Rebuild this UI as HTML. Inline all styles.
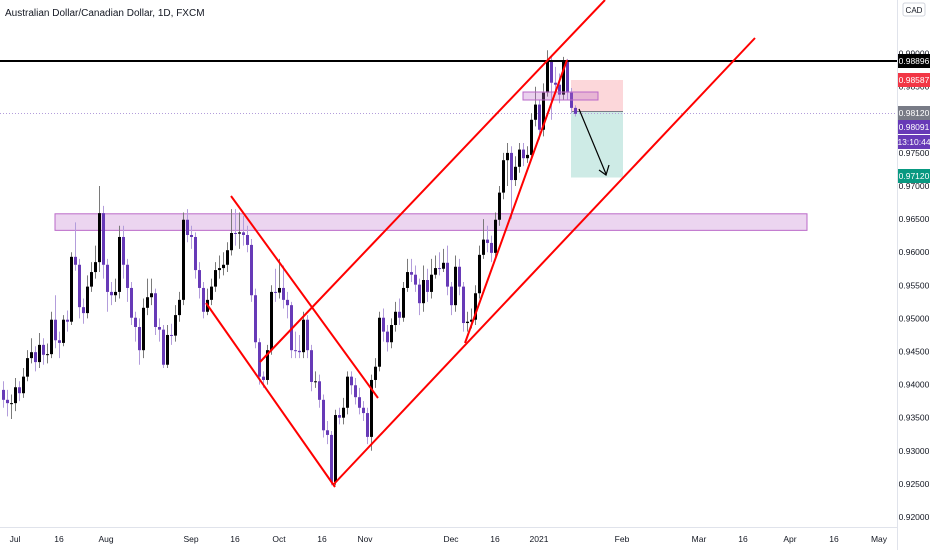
<!DOCTYPE html>
<html><head><meta charset="utf-8">
<style>
html,body{margin:0;padding:0;background:#fff;width:932px;height:550px;overflow:hidden}
svg{display:block;font-family:"Liberation Sans",sans-serif}
</style></head>
<body>
<svg id="chart" width="932" height="550" viewBox="0 0 932 550" xmlns="http://www.w3.org/2000/svg">
  <rect x="0" y="0" width="932" height="550" fill="#fff"/>
  <g id="drawBack"></g>
  <g id="candles"></g>
  <g id="drawFront"></g>
  <line x1="897.5" y1="0" x2="897.5" y2="550" stroke="#e0e3eb"/>
  <line x1="0" y1="527.5" x2="897" y2="527.5" stroke="#e0e3eb"/>
  <g id="yaxis"></g>
  <g id="xaxis"></g>
  <text x="5" y="16" font-size="10" fill="#131722">Australian Dollar/Canadian Dollar, 1D, FXCM</text>
  <rect x="903" y="3" width="22" height="13" rx="2" fill="#fff" stroke="#d1d4dc"/>
  <text x="914" y="13" font-size="8" text-anchor="middle" fill="#131722">CAD</text>
</svg>
<script>
// ---- data ----
const firstOpen = 0.9392;
const closes = [0.9377,0.9372,0.9372,0.9396,0.9387,0.9412,0.9440,0.9449,0.9434,0.9460,0.9445,0.9446,0.9498,0.9467,0.9463,0.9498,0.9495,0.9593,0.9581,0.9517,0.9508,0.9548,0.9570,0.9585,0.9659,0.9581,0.9540,0.9535,0.9540,0.9623,0.9581,0.9546,0.9501,0.9487,0.9452,0.9516,0.9532,0.9538,0.9487,0.9483,0.9430,0.9475,0.9474,0.9505,0.9528,0.9649,0.9626,0.9623,0.9573,0.9546,0.9510,0.9528,0.9548,0.9573,0.9576,0.9581,0.9603,0.9629,0.9628,0.9630,0.9626,0.9611,0.9535,0.9464,0.9412,0.9407,0.9452,0.9540,0.9539,0.9546,0.9528,0.9520,0.9452,0.9451,0.9449,0.9498,0.9452,0.9404,0.9405,0.9377,0.9331,0.9324,0.9253,0.9354,0.9350,0.9365,0.9412,0.9399,0.9381,0.9365,0.9357,0.9321,0.9407,0.9427,0.9501,0.9480,0.9464,0.9490,0.9510,0.9501,0.9546,0.9570,0.9566,0.9551,0.9523,0.9558,0.9540,0.9566,0.9576,0.9575,0.9584,0.9548,0.9520,0.9578,0.9548,0.9493,0.9495,0.9498,0.9538,0.9596,0.9619,0.9614,0.9599,0.9649,0.9690,0.9739,0.9750,0.9709,0.9729,0.9755,0.9742,0.9747,0.9800,0.9823,0.9785,0.9841,0.9888,0.9856,0.9853,0.9838,0.9888,0.9841,0.9818,0.9809];
const highs = [0.9405,0.9392,0.9385,0.9410,0.9405,0.9425,0.9452,0.9470,0.9458,0.9478,0.9470,0.9462,0.9510,0.9535,0.9480,0.9505,0.9512,0.9600,0.9645,0.9590,0.9530,0.9565,0.9585,0.9610,0.9700,0.9670,0.9590,0.9555,0.9560,0.9640,0.9640,0.9590,0.9555,0.9510,0.9500,0.9530,0.9560,0.9560,0.9545,0.9500,0.9490,0.9490,0.9492,0.9520,0.9540,0.9660,0.9665,0.9640,0.9630,0.9585,0.9555,0.9545,0.9560,0.9585,0.9595,0.9600,0.9615,0.9665,0.9665,0.9660,0.9655,0.9640,0.9620,0.9545,0.9470,0.9420,0.9460,0.9550,0.9575,0.9590,0.9580,0.9540,0.9525,0.9480,0.9475,0.9510,0.9505,0.9460,0.9420,0.9415,0.9385,0.9345,0.9330,0.9362,0.9365,0.9380,0.9420,0.9420,0.9410,0.9395,0.9375,0.9365,0.9415,0.9440,0.9510,0.9515,0.9490,0.9500,0.9525,0.9530,0.9555,0.9590,0.9590,0.9580,0.9560,0.9580,0.9575,0.9590,0.9595,0.9600,0.9605,0.9610,0.9555,0.9595,0.9590,0.9555,0.9510,0.9515,0.9550,0.9610,0.9650,0.9640,0.9625,0.9660,0.9700,0.9750,0.9765,0.9760,0.9745,0.9765,0.9765,0.9760,0.9810,0.9850,0.9830,0.9855,0.9905,0.9895,0.9880,0.9870,0.9895,0.9892,0.9848,0.9822];
const lows = [0.9365,0.9352,0.9348,0.9360,0.9375,0.9380,0.9405,0.9432,0.9420,0.9425,0.9430,0.9432,0.9440,0.9455,0.9440,0.9458,0.9480,0.9490,0.9572,0.9500,0.9492,0.9500,0.9540,0.9560,0.9570,0.9560,0.9510,0.9520,0.9525,0.9530,0.9560,0.9525,0.9490,0.9465,0.9430,0.9440,0.9505,0.9520,0.9475,0.9465,0.9425,0.9425,0.9460,0.9465,0.9495,0.9520,0.9615,0.9605,0.9560,0.9530,0.9500,0.9505,0.9520,0.9540,0.9560,0.9565,0.9570,0.9595,0.9610,0.9605,0.9610,0.9600,0.9525,0.9455,0.9400,0.9395,0.9400,0.9445,0.9525,0.9530,0.9515,0.9500,0.9440,0.9440,0.9440,0.9440,0.9440,0.9390,0.9395,0.9365,0.9320,0.9310,0.9248,0.9248,0.9340,0.9340,0.9355,0.9385,0.9370,0.9355,0.9345,0.9310,0.9300,0.9395,0.9420,0.9465,0.9450,0.9455,0.9480,0.9490,0.9495,0.9540,0.9555,0.9540,0.9505,0.9510,0.9525,0.9530,0.9560,0.9565,0.9570,0.9535,0.9505,0.9510,0.9535,0.9480,0.9480,0.9485,0.9490,0.9530,0.9590,0.9600,0.9585,0.9590,0.9640,0.9680,0.9700,0.9650,0.9700,0.9720,0.9730,0.9735,0.9740,0.9790,0.9770,0.9775,0.9835,0.9800,0.9840,0.9825,0.9830,0.9830,0.9810,0.9805];
const priceTicks = [0.92,0.925,0.93,0.935,0.94,0.945,0.95,0.955,0.96,0.965,0.97,0.975,0.98,0.985,0.99];
const timeLabels = ["Jul","16","Aug","Sep","16","Oct","16","Nov","Dec","16","2021","Feb","Mar","16","Apr","16","May"];
const timeLabelBars = [3,14,25.75,47,58,69,79.75,90.5,112,123,134,154.75,174,185,196.75,207.75,219];

// ---- scales ----
const PX_PER_UNIT = 6620;
function yScale(p){ return 517 - (p - 0.92) * PX_PER_UNIT; }
function xScale(i){ return 3 + 4 * i; }
const NS = "http://www.w3.org/2000/svg";
function mk(tag, attrs, parent){
  const e = document.createElementNS(NS, tag);
  for (const k in attrs) e.setAttribute(k, attrs[k]);
  parent.appendChild(e); return e;
}

// ---- price axis ----
const yaxis = document.getElementById('yaxis');
priceTicks.forEach(p => {
  const y = yScale(p);
  const t = mk('text', {x: 914, y: y + 3, 'font-size': 8.5, 'text-anchor': 'middle', fill: '#131722'}, yaxis);
  
  
  t.textContent = p.toFixed(5);
});
// ---- time axis ----
const xaxis = document.getElementById('xaxis');
timeLabels.forEach((lab, k) => {
  const x = xScale(timeLabelBars[k]);
  const t = mk('text', {x: x, y: 542, 'font-size': 8.5, 'text-anchor': 'middle', fill: '#131722'}, xaxis);
  
  
  t.textContent = lab;
});

// ---- background drawings ----
const back = document.getElementById('drawBack');
let r;
r = mk('rect', {x: 55, y: yScale(0.9658), width: 752, height: yScale(0.9633) - yScale(0.9658), fill: 'rgba(186,104,200,0.28)', stroke: '#ba68c8', 'stroke-width': 1}, back);


r = mk('rect', {x: 571, y: 80, width: 52, height: 31.5, fill: 'rgba(242,54,69,0.2)'}, back);


r = mk('rect', {x: 571, y: 111.5, width: 52, height: 66, fill: 'rgba(8,153,129,0.2)'}, back);


r = mk('line', {x1: 571, y1: 111.5, x2: 623, y2: 111.5, stroke: '#787b86', 'stroke-width': 1}, back);


r = mk('line', {x1: 0, y1: 113.5, x2: 897, y2: 113.5, stroke: '#b39ddb', 'stroke-width': 1, 'stroke-dasharray': '1,2'}, back);



// ---- candles ----
const cg = document.getElementById('candles');
closes.forEach((c, i) => {
  const o = i === 0 ? firstOpen : closes[i - 1];
  const x = xScale(i);
  const up = c >= o;
  const body = up ? '#000000' : '#673ab7';
  const wickCol = up ? '#7a7a7a' : '#b39ddb';
  const w = mk('line', {x1: x + 0.5, y1: yScale(highs[i]), x2: x + 0.5, y2: yScale(lows[i]), stroke: wickCol, 'stroke-width': 1}, cg);
  
  
  const yt = yScale(Math.max(o, c)), yb = yScale(Math.min(o, c));
  const b = mk('rect', {x: x - 1, y: yt, width: 3, height: Math.max(1, yb - yt), fill: body}, cg);
  
  
});

// ---- front drawings ----
const front = document.getElementById('drawFront');
r = mk('line', {x1: 0, y1: 61, x2: 897, y2: 61, stroke: '#000', 'stroke-width': 2}, front);


r = mk('rect', {x: 523, y: 92, width: 75, height: 8, fill: 'rgba(186,104,200,0.3)', stroke: '#ba68c8', 'stroke-width': 1}, front);


const redLines = [
  ['upper-channel-line', 260, 362, 605, 0],
  ['lower-channel-line', 333, 485, 755, 38],
  ['steep-trendline', 465, 343, 567, 60],
  ['falling-channel-upper', 231, 196, 378, 398],
  ['falling-channel-lower', 206, 303, 335, 487]
];
redLines.forEach(l => {
  const e = mk('line', {x1: l[1], y1: l[2], x2: l[3], y2: l[4], stroke: '#ff0000', 'stroke-width': 2}, front);
  
  
});
r = mk('line', {x1: 579, y1: 109, x2: 606, y2: 174, stroke: '#000', 'stroke-width': 1.2}, front);


r = mk('polyline', {points: '599,170 606,175 609,165', fill: 'none', stroke: '#000', 'stroke-width': 1.2}, front);



// ---- price labels ----
const tags = [
  ['level-price-tag', '0.98896', 61, '#000000'],
  ['stop-price-tag', '0.98587', 80, '#f23645'],
  ['entry-price-tag', '0.98120', 113, '#787b86'],
  ['last-price-tag', '0.98091', 127, '#673ab7'],
  ['countdown-tag', '13:10:44', 142, '#673ab7'],
  ['target-price-tag', '0.97120', 176, '#089981']
];
tags.forEach(t => {
  const g = mk('g', {}, yaxis);
  
  
  mk('rect', {x: 898, y: t[2] - 7, width: 32, height: 14, fill: t[3]}, g);
  const tx = mk('text', {x: 914, y: t[2] + 3, 'font-size': 8.5, 'text-anchor': 'middle', fill: '#fff'}, g);
  tx.textContent = t[1];
});
</script>
</body></html>
